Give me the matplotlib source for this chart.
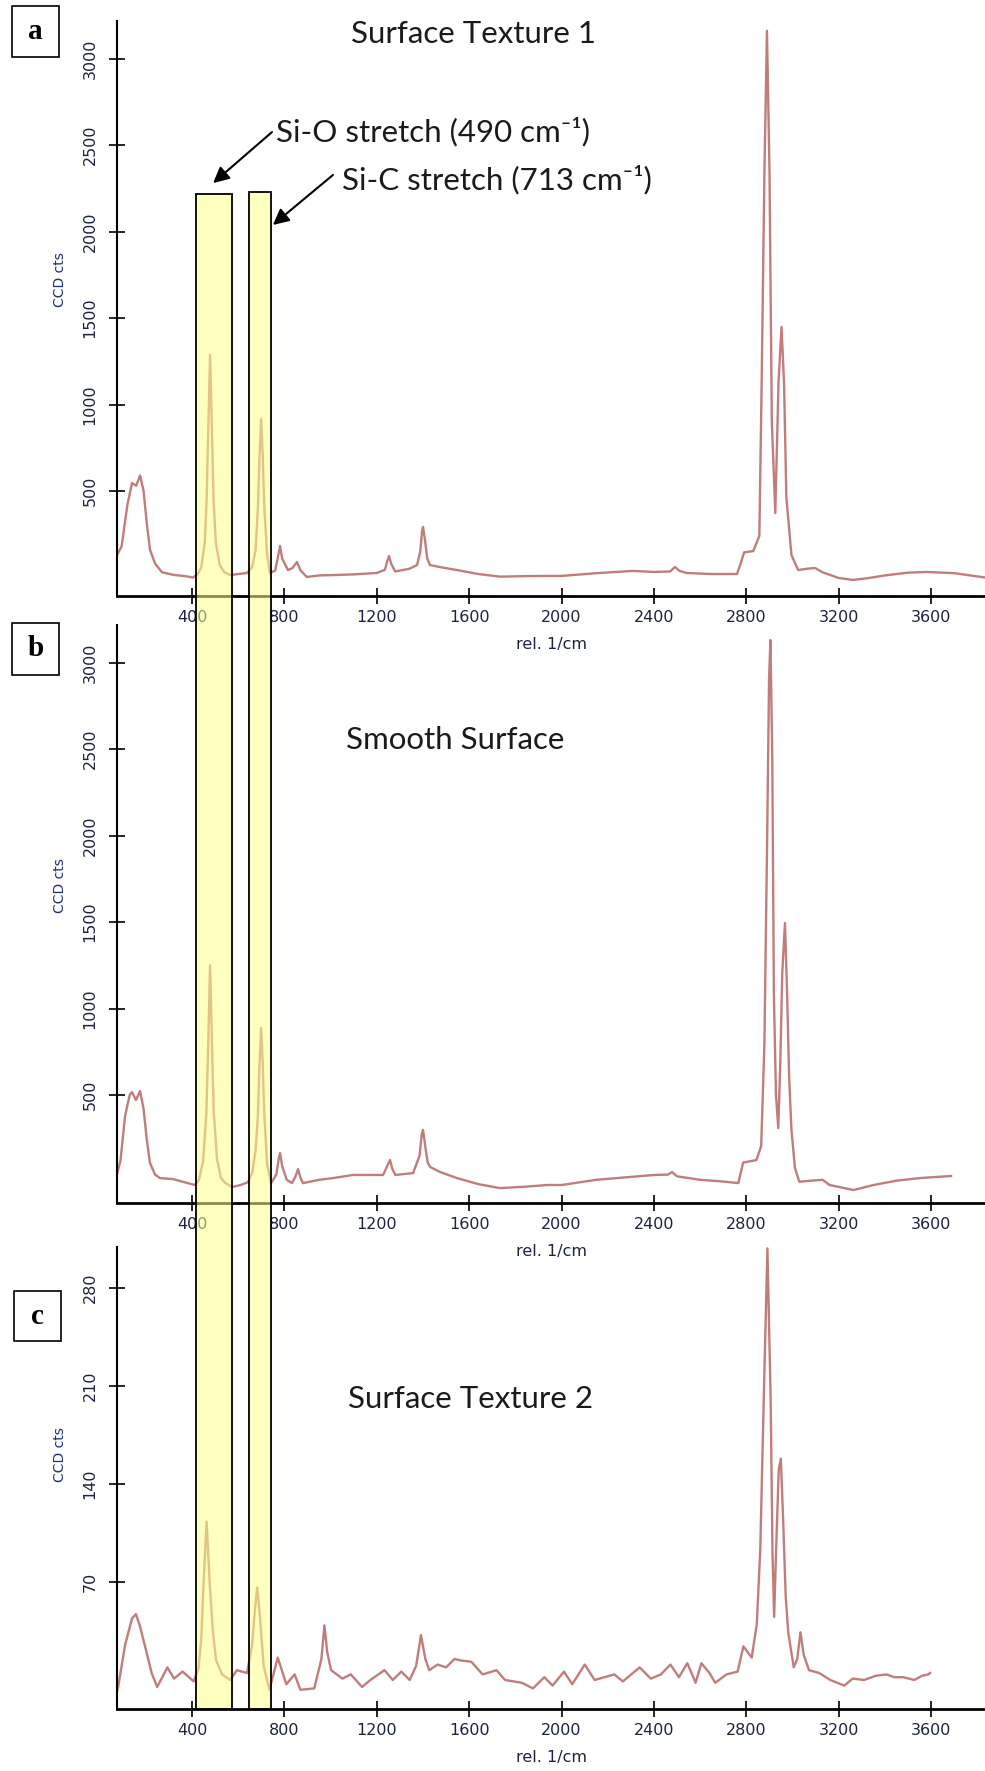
import matplotlib
matplotlib.use("Agg")
import matplotlib.pyplot as plt
from matplotlib.patches import Rectangle

# ---------------------------------------------------------------- data
# Raman shift (rel. 1/cm) and CCD counts for the three surfaces
wn_a = [75, 95, 120, 140, 158, 175, 190, 205, 218, 240, 270, 320, 370, 404,
        425, 440, 455, 463, 470, 478, 486, 493, 503, 520, 540, 565, 600, 638,
        660, 675, 685, 692, 699, 706, 713, 725, 737, 760, 772, 781, 790, 815,
        835, 854, 870, 897, 950, 1010, 1100, 1200, 1235, 1245, 1253, 1262,
        1279, 1340, 1374, 1388, 1396, 1400, 1408, 1418, 1430, 1474, 1547,
        1640, 1733, 1850, 1937, 2000, 2150, 2309, 2400, 2470, 2491, 2510,
        2541, 2650, 2759, 2775, 2790, 2830, 2856, 2866, 2878, 2889, 2900,
        2910, 2925, 2939, 2952, 2963, 2973, 2995, 3024, 3060, 3097, 3130,
        3200, 3261, 3320, 3400, 3500, 3581, 3700, 3833]
cts_a = [130, 180, 420, 546, 530, 590, 500, 300, 160, 80, 30, 15, 8, 0,
         20, 60, 200, 450, 850, 1286, 850, 450, 200, 70, 30, 14, 20, 26,
         60, 160, 400, 700, 916, 700, 400, 130, 26, 40, 120, 182, 110, 43,
         55, 90, 40, 3, 12, 14, 18, 26, 45, 95, 124, 80,
         35, 50, 72, 150, 270, 292, 220, 110, 72, 60, 43,
         20, 5, 8, 9, 9, 25, 38, 32, 35, 61, 38,
         26, 20, 20, 80, 145, 153, 240, 1125, 2344, 3160, 2344,
         905, 373, 1125, 1448, 1125, 463, 130, 43, 50, 55, 30,
         -3, -14, -5, 12, 28, 32, 25, 0]

wn_b = [75, 90, 110, 130, 140, 157, 175, 190, 205, 218, 240, 261, 318, 370,
        413, 430, 448, 462, 470, 478, 486, 494, 508, 525, 545, 573, 610, 642,
        660, 675, 685, 692, 699, 706, 713, 725, 742, 765, 775, 781, 790, 810,
        833, 848, 859, 870, 880, 950, 1010, 1097, 1227, 1245, 1257, 1268,
        1280, 1357, 1385, 1394, 1400, 1410, 1420, 1431, 1474, 1547, 1640,
        1733, 1840, 1937, 2000, 2150, 2400, 2460, 2478, 2500, 2600, 2700,
        2765, 2786, 2843, 2864, 2878, 2890, 2898, 2904, 2912, 2919, 2928,
        2938, 2947, 2955, 2967, 2976, 2985, 2995, 3010, 3029, 3080, 3130,
        3160, 3264, 3350, 3450, 3550, 3686]
cts_b = [43, 120, 380, 500, 517, 471, 523, 420, 230, 107, 40, 20, 14, -5,
         -20, 10, 120, 400, 800, 1251, 800, 400, 130, 20, -10, -32, -20, -4,
         50, 180, 380, 680, 887, 680, 380, 100, -9, 40, 130, 165, 90, 10,
         -9, 30, 72, 20, -9, 10, 20, 38, 38, 90, 124, 70,
         38, 49, 150, 270, 298, 200, 110, 84, 55, 20, -15,
         -38, -30, -20, -20, 10, 38, 40, 55, 30, 10, 0,
         -9, 110, 124, 205, 800, 2000, 2900, 3130, 2448, 1078, 500,
         309, 700, 1200, 1494, 1100, 600, 300, 80, -1, 5, 10,
         -20, -49, -20, 5, 20, 32]

wn_c = [75, 80, 110, 140, 157, 175, 201, 225, 249, 293, 322, 359, 407, 428,
        440, 450, 463, 476, 490, 504, 530, 565, 594, 638, 660, 672, 682, 694,
        710, 735, 771, 808, 844, 869, 929, 960, 973, 985, 1002, 1051, 1087,
        1136, 1172, 1233, 1269, 1306, 1342, 1370, 1391, 1410, 1427, 1463,
        1500, 1536, 1561, 1609, 1658, 1718, 1755, 1828, 1876, 1925, 1961,
        2010, 2046, 2100, 2143, 2228, 2265, 2338, 2386, 2430, 2471, 2508,
        2544, 2580, 2605, 2640, 2665, 2714, 2762, 2787, 2823, 2845, 2860,
        2875, 2891, 2905, 2913, 2920, 2930, 2940, 2949, 2960, 2970, 2981,
        3005, 3020, 3034, 3048, 3071, 3115, 3163, 3224, 3260, 3309, 3360,
        3406, 3440, 3479, 3527, 3560, 3588, 3595]
cts_c = [-8, -5, 25, 44, 47, 38, 21, 5, -5, 9, 1, 6, -1, 8,
         30, 70, 113, 70, 35, 14, 4, 0, 7, 5, 25, 50, 66, 45,
         10, -7, 16, -3, 4, -7, -6, 15, 39, 20, 7, 1, 4,
         -5, 0, 7, 0, 6, 0, 10, 32, 15, 7, 11,
         9, 15, 14, 13, 4, 7, 0, -2, -6, 2, -4,
         6, -3, 11, 0, 4, -1, 9, 1, 4, 11, 2,
         12, -2, 12, 5, -2, 4, 6, 24, 16, 40, 93,
         200, 308, 200, 90, 45, 100, 150, 158, 110, 60, 34,
         9, 15, 34, 18, 7, 5, 0, -4, 1, 0, 3,
         4, 2, 2, 0, 3, 4, 5]

x_ticks = [400, 800, 1200, 1600, 2000, 2400, 2800, 3200, 3600]
y_ticks_ab = [500, 1000, 1500, 2000, 2500, 3000]
y_ticks_c = [70, 140, 210, 280]

titles = ["Surface Texture 1", "Smooth Surface", "Surface Texture 2"]
panel_letters = ["a", "b", "c"]

# highlighted bands (rel. 1/cm) and the label of each band
band_si_o = (417, 573)
band_si_c = (647, 742)
label_si_o = "Si-O stretch (490 cm⁻¹)"
label_si_c = "Si-C stretch (713 cm⁻¹)"

# ---------------------------------------------------------------- layout
W, H = 985, 1771
fig = plt.figure(figsize=(W / 100, H / 100), dpi=100)


def fig_rect(left, top, right, bottom):
    """Pixel box (from the top-left corner) -> figure fraction rect."""
    return [left / W, 1 - bottom / H, (right - left) / W, (bottom - top) / H]


ax_a = fig.add_axes(fig_rect(117, 21, 985, 596))
ax_b = fig.add_axes(fig_rect(117, 625, 985, 1203))
ax_c = fig.add_axes(fig_rect(117, 1247, 985, 1709))

LINE = "#b66664"
TICK_TXT = "#1c2342"
XLIM = (75, 3833)

panels = [
    (ax_a, wn_a, cts_a, (-107, 3217), y_ticks_ab),
    (ax_b, wn_b, cts_b, (-124, 3217), y_ticks_ab),
    (ax_c, wn_c, cts_c, (-20.7, 309), y_ticks_c),
]

for ax, x, y, ylim, yt in panels:
    ax.plot(x, y, color=LINE, lw=1.7, alpha=0.85, solid_joinstyle="round")
    ax.set_xlim(*XLIM)
    ax.set_ylim(*ylim)
    ax.set_xticks(x_ticks)
    ax.set_yticks(yt)
    ax.set_xticklabels([str(v) for v in x_ticks])
    ax.set_yticklabels([str(v) for v in yt])
    for side in ("top", "right"):
        ax.spines[side].set_visible(False)
    ax.spines["left"].set_linewidth(1.5)
    ax.spines["bottom"].set_linewidth(2.0)
    ax.patch.set_alpha(0)
    ax.tick_params(axis="both", direction="inout", length=12, width=1.2,
                   colors="black", labelcolor=TICK_TXT, labelsize=11.5)
    ax.tick_params(axis="y", pad=8)
    ax.tick_params(axis="x", pad=4)
    for lbl in ax.get_xticklabels() + ax.get_yticklabels():
        lbl.set_family("DejaVu Sans")
    for lbl in ax.get_yticklabels():
        lbl.set_rotation(90)
        lbl.set_va("center")
    ax.set_xlabel("rel. 1/cm", fontsize=11.5, color=TICK_TXT, labelpad=9)
    ax.set_ylabel("CCD cts", fontsize=10, color="#1f2f7a")
    ax.yaxis.set_label_coords(-0.058, 0.55)

# panel titles
title_pos = [(0.2696, 0.977), (0.2638, 0.801), (0.266, 0.671)]
for ax, t, (tx, ty) in zip((ax_a, ax_b, ax_c), titles, title_pos):
    ax.text(tx, ty, t, transform=ax.transAxes, family="Lato", fontsize=22.5,
            color="#1a1a1a", ha="left", va="center")

# panel letters in boxes
letter_boxes = [(12, 6, 59, 57), (12, 623, 59, 675), (14, 1291, 61, 1341)]
for letter, (l, t, r, b) in zip(panel_letters, letter_boxes):
    fr = fig_rect(l, t, r, b)
    fig.patches.append(Rectangle((fr[0], fr[1]), fr[2], fr[3],
                                 transform=fig.transFigure, fill=False,
                                 ec="black", lw=1.2, zorder=5))
    fig.text(fr[0] + fr[2] / 2, fr[1] + fr[3] / 2, letter,
             family="Liberation Serif", weight="bold", fontsize=21,
             ha="center", va="center")

# highlighted bands spanning all three panels
fig.canvas.draw()
to_fig = fig.transFigure.inverted()
band_tops = [2217, 2228]
y_bottom = to_fig.transform(ax_c.transAxes.transform((0, 0)))[1]
for (x0, x1), top in zip((band_si_o, band_si_c), band_tops):
    p0 = to_fig.transform(ax_a.transData.transform((x0, top)))
    p1 = to_fig.transform(ax_a.transData.transform((x1, top)))
    w = p1[0] - p0[0]
    h = p0[1] - y_bottom
    fig.patches.append(Rectangle((p0[0], y_bottom), w, h,
                                 transform=fig.transFigure, fc="#ffff8c",
                                 ec="none", alpha=0.55, zorder=10))
    fig.patches.append(Rectangle((p0[0], y_bottom), w, h,
                                 transform=fig.transFigure, fill=False,
                                 ec="black", lw=1.3, zorder=11))

# band labels with arrows
arrow_kw = dict(arrowstyle="-|>", color="black", lw=1.5,
                mutation_scale=24, shrinkA=0, shrinkB=0)
ax_a.annotate("", xy=(491, 2280), xytext=(746, 2575),
              arrowprops=arrow_kw, annotation_clip=False)
ax_a.annotate("", xy=(750, 2038), xytext=(1010, 2327),
              arrowprops=arrow_kw, annotation_clip=False)
ax_a.text(764, 2575, label_si_o, family=["Lato", "DejaVu Sans"],
          fontsize=22.5, color="#1a1a1a", ha="left", va="center")
ax_a.text(1049, 2298, label_si_c, family=["Lato", "DejaVu Sans"],
          fontsize=22.5, color="#1a1a1a", ha="left", va="center")

fig.savefig("out.png", dpi=100)
